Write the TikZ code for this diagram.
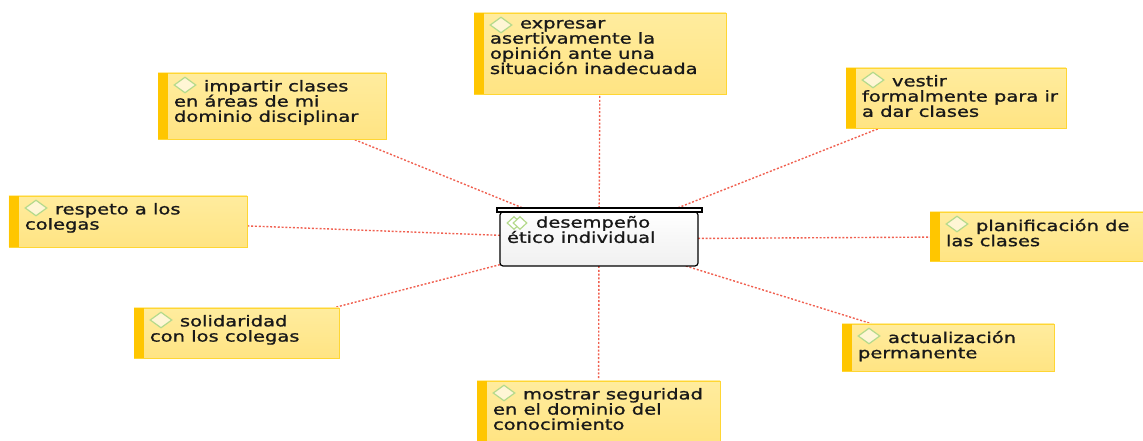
\documentclass[tikz,border=0pt]{standalone}
\usepackage{fontspec}
\setmainfont[FakeStretch=1.30,FakeBold=1.1]{DejaVu Sans}
\usetikzlibrary{shapes.geometric,backgrounds}
\definecolor{stripe}{HTML}{FFC600}
\definecolor{edgeY}{HTML}{FFD633}
\definecolor{lineR}{HTML}{F06050}
\definecolor{diaG}{HTML}{B4DA8C}
\definecolor{fillTop}{HTML}{FFEC9E}
\definecolor{fillBot}{HTML}{FFE483}
\definecolor{diaFill}{HTML}{FFF6D5}
\tikzset{
  x=1bp,y=-1bp,
  concept/.style={draw=edgeY,line width=.8bp,top color=fillTop,bottom color=fillBot,inner sep=0pt,outer sep=0pt},
  stripebar/.style={fill=stripe,draw=none},
  label/.style={anchor=north west,align=left,inner sep=0pt,outer sep=0pt,text=black!90,
     font=\fontsize{15bp}{15.2bp}\selectfont},
  dia/.style={diamond,draw=diaG,fill=diaFill,line width=1.2bp,minimum width=22bp,minimum height=16bp,inner sep=0pt},
  smalldia/.style={diamond,draw=diaG,fill=white,line width=1.2bp,minimum width=14bp,minimum height=13bp,inner sep=0pt},
  conn/.style={draw=lineR,line width=1.4bp,dash pattern=on 2bp off 1.8bp},
  corebox/.style={draw=black,line width=1.2bp,rounded corners=3bp,top color=white,bottom color=black!6,inner sep=0pt,outer sep=0pt},
  lid/.style={draw=black,line width=1.2bp,fill=white,inner sep=0pt},
}
% name, x1, y1, x2, y2, text
\newcommand{\conceptbox}[6]{%
  \node[concept,minimum width=#4bp-#2bp,minimum height=#5bp-#3bp] (#1) at ({(#2+#4)/2},{(#3+#5)/2}) {};
  \fill[stripebar] (#2,#3) rectangle (#2+10,#5);
  \node[dia] (#1d) at (#2+27,#3+12) {};
  \node[label] (#1t) at (#2+16,#3+7) {\hspace{30bp}#6};
}
\begin{document}
\begin{tikzpicture}
\useasboundingbox (0,0) rectangle (1143,441);
\node[corebox,minimum width=198bp,minimum height=54bp] (core) at (599,239) {};
\node[lid,minimum width=205bp,minimum height=4bp] (corelid) at (599.5,210) {};
\node[smalldia] (cored1) at (514,223) {};
\node[smalldia] (cored2) at (520,223) {};
\node[label] (coret) at (507,216) {\hspace{29bp}desempeño\\ético individual};
\conceptbox{ea}{474}{13}{726}{94}{expresar\\asertivamente la\\opinión ante una\\situación inadecuada}
\conceptbox{eb}{158}{73}{386}{139}{impartir clases\\en áreas de mi\\dominio disciplinar}
\conceptbox{ec}{846}{68}{1066}{128}{vestir\\formalmente para ir\\a dar clases}
\conceptbox{ed}{9}{196}{247}{247}{respeto a los\\colegas}
\conceptbox{ee}{930}{212}{1143}{261}{planificación de\\las clases}
\conceptbox{ef}{134}{308}{339}{358}{solidaridad\\con los colegas}
\conceptbox{eg}{842}{324}{1054}{371}{actualización\\permanente}
\conceptbox{eh}{477}{381}{720}{441}{mostrar seguridad\\en el dominio del\\conocimiento}
\begin{scope}[on background layer]
\foreach \n in {ea,eb,ec,ed,ee,ef,eg,eh}{
  \draw[conn] (core) -- (\n);
}
\end{scope}
\end{tikzpicture}
\end{document}
